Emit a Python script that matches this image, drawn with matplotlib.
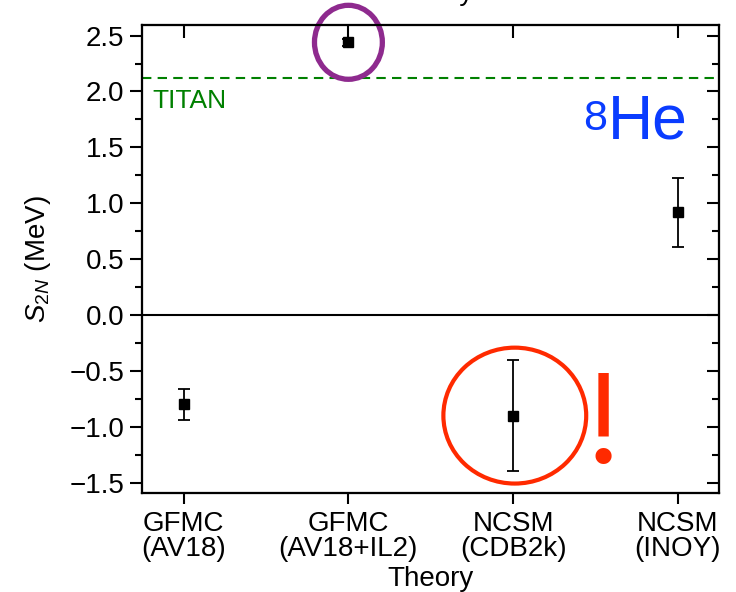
#!/usr/bin/env python
# -*- coding: utf-8 -*-

import matplotlib
matplotlib.use('Agg')
import matplotlib.pyplot as plt
from matplotlib.patches import Ellipse
from matplotlib.ticker import MultipleLocator

# 字体设置
plt.rcParams['font.family'] = ['Liberation Sans', 'DejaVu Sans']
plt.rcParams['mathtext.fontset'] = 'custom'
plt.rcParams['mathtext.rm'] = 'Liberation Sans'
plt.rcParams['mathtext.it'] = 'Liberation Sans:italic'
plt.rcParams['axes.linewidth'] = 1.5

# 数据
methods = ['GFMC\n(AV18)', 'GFMC\n(AV18+IL2)', 'NCSM\n(CDB2k)', 'NCSM\n(INOY)']
positions = [1, 2, 3, 4]
s2n = [-0.80, 2.44, -0.90, 0.92]
s2n_err = [0.14, 0.03, 0.50, 0.31]
titan = 2.12

fs = 20

fig = plt.figure(figsize=(7.36, 5.92), dpi=100)
ax = fig.add_axes([0.1936, 0.1677, 0.7834, 0.7901])

ax.errorbar(positions, s2n, yerr=s2n_err, fmt='s', color='k',
            markersize=7, elinewidth=1.3, capsize=4, capthick=1.3)

# TITAN 测量值
ax.axhline(titan, color='#008000', lw=1.5, dashes=(4.5, 3))
ax.text(0.018, 0.8225, 'TITAN', color='#008000', fontsize=fs - 1,
        transform=ax.transAxes, va='baseline', ha='left')

# 零线
ax.axhline(0, color='k', lw=1.5)

# 标记圆圈
ax.add_patch(Ellipse((positions[1], s2n[1]), 0.412, 0.662, fill=False,
                     edgecolor='#8E2A8E', lw=3.8, clip_on=False, zorder=5))
ax.add_patch(Ellipse((positions[2] + 0.01, s2n[2]), 0.867, 1.216, fill=False,
                     edgecolor='#FF2A00', lw=3.0, zorder=5))
ax.text(0.799, 0.0657, '!', color='#FF2A00', fontsize=98,
        family='Liberation Serif', transform=ax.transAxes,
        ha='center', va='baseline')

# 8He
ax.text(0.946, 0.758, 'He', color='#0A3CFF', fontsize=45,
        transform=ax.transAxes, ha='right', va='baseline')
ax.text(0.806, 0.7755, '8', color='#0A3CFF', fontsize=31,
        transform=ax.transAxes, ha='right', va='baseline')

ax.set_xlim(0.75, 4.25)
ax.set_ylim(-1.59, 2.595)
ax.set_xticks(positions)
ax.set_xticklabels(methods, fontsize=fs, linespacing=0.95)
ax.yaxis.set_major_locator(MultipleLocator(0.5))
ax.yaxis.set_minor_locator(MultipleLocator(0.25))
ax.tick_params(axis='y', which='major', direction='out', length=9, width=1.5,
               labelsize=fs, pad=4, right=False)
ax.tick_params(axis='y', which='minor', direction='out', length=5, width=1.5,
               right=False)
ax.tick_params(axis='x', direction='out', length=8, width=1.5, pad=5, top=False)
ax.set_xlabel('Theory', fontsize=fs, labelpad=3)
ax.set_ylabel('$S_{2N}$ (MeV)', fontsize=fs, labelpad=12)

# 右侧和上方的刻度（朝内）
ax_r = ax.twinx()
ax_r.set_ylim(ax.get_ylim())
ax_r.yaxis.set_major_locator(MultipleLocator(0.5))
ax_r.yaxis.set_minor_locator(MultipleLocator(0.25))
ax_r.tick_params(axis='y', which='major', direction='in', length=9, width=1.5,
                 labelright=False)
ax_r.tick_params(axis='y', which='minor', direction='in', length=5, width=1.5)

ax_t = ax.twiny()
ax_t.set_xlim(ax.get_xlim())
ax_t.set_xticks(positions)
ax_t.tick_params(axis='x', direction='in', length=9, width=1.5, labeltop=False)
ax_t.set_xlabel('Theory', fontsize=fs, labelpad=18)

plt.savefig('out.png', dpi=100)
